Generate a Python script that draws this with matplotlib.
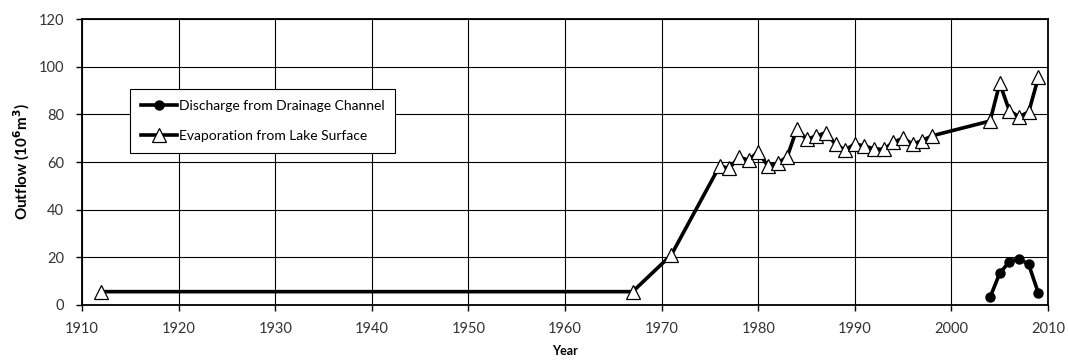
import matplotlib
matplotlib.use("Agg")
import matplotlib.pyplot as plt

plt.rcParams['font.family'] = ['Lato', 'DejaVu Sans']

# Evaporation from the lake surface (10^6 m^3)
evap_years = [1912, 1967, 1971, 1976, 1977, 1978, 1979, 1980, 1981, 1982,
              1983, 1984, 1985, 1986, 1987, 1988, 1989, 1990, 1991, 1992,
              1993, 1994, 1995, 1996, 1997, 1998, 2004, 2005, 2006, 2007,
              2008, 2009]
evap_vals = [5.6, 5.6, 21, 58.3, 57.4, 62, 60.8, 64.3, 58.3, 59.5,
             62.2, 73.9, 69.5, 70.9, 72.3, 67.4, 65, 67.6, 66.7, 65.5,
             65.3, 68.3, 70, 67.5, 69, 71, 77.2, 93, 81.5, 79,
             81, 95.5]

# Discharge from the drainage channel (10^6 m^3)
drain_years = [2004, 2005, 2006, 2007, 2008, 2009]
drain_vals = [3.2, 13.3, 18.2, 19.5, 17, 5]

x_ticks = list(range(1910, 2011, 10))
y_ticks = list(range(0, 121, 20))

fig = plt.figure(figsize=(10.68, 3.6), dpi=100)
ax = fig.add_axes([0.0768, 0.1528, 0.9045, 0.7944])

ax.plot(drain_years, drain_vals, color='black', lw=2.6, marker='o',
        markersize=6.5, markerfacecolor='black', markeredgecolor='black',
        label='Discharge from Drainage Channel', zorder=3)
ax.plot(evap_years, evap_vals, color='black', lw=2.6, marker='^',
        markersize=10, markerfacecolor='white', markeredgecolor='black',
        markeredgewidth=0.9, label='Evaporation from Lake Surface', zorder=3)

ax.set_xlim(1910, 2010)
ax.set_ylim(0, 120)
ax.set_xticks(x_ticks)
ax.set_yticks(y_ticks)
ax.grid(True, color='black', lw=0.8)
ax.set_axisbelow(True)
ax.tick_params(direction='out', length=4, width=1, labelsize=10.5,
               labelcolor='#333333')
ax.tick_params(axis='x', pad=8)
ax.tick_params(axis='y', pad=9)
for s in ax.spines.values():
    s.set_linewidth(1.3)
    s.set_color('black')

ax.set_xlabel('Year', fontsize=9, fontweight='bold', labelpad=7)
ax.set_ylabel(r'Outflow (10$^{\mathbf{6}}$m$^{\mathbf{3}}$)', fontsize=11,
              fontweight='bold', labelpad=5)

leg = ax.legend(loc='upper left', bbox_to_anchor=(0.0497, 0.755),
                fontsize=10, frameon=True, fancybox=False,
                edgecolor='black', framealpha=1, handlelength=2.6,
                handletextpad=0.1, borderpad=0.8, labelspacing=1.25,
                borderaxespad=0)
leg.get_frame().set_linewidth(0.8)

fig.savefig('out.png', dpi=100)
